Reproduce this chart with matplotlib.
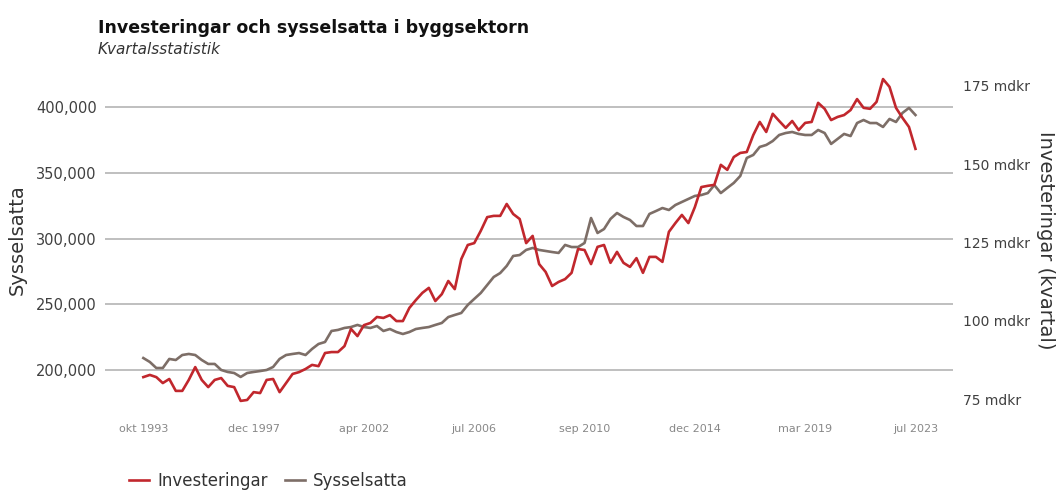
import matplotlib
matplotlib.use("Agg")
import matplotlib.pyplot as plt
from matplotlib.ticker import FuncFormatter

# -----------------------------------------------------------------------------
# Data: quarterly, okt 1993 .. jul 2023 (120 quarters)
# Sysselsatta (left axis, persons)
sysselsatta = [
    209100, 206100, 201500, 201500, 208400, 207600, 211400, 212200, 211400, 207600,
    204600, 204600, 200000, 198500, 197700, 194700, 197700, 198500, 199200, 200000,
    202300, 208400, 211400, 212200, 212900, 211400, 216000, 219800, 221300, 229700,
    230500, 232000, 232700, 234300, 232700, 232000, 233500, 229700, 231200, 228900,
    227400, 228900, 231200, 232000, 232700, 234300, 235800, 240300, 241900, 243400,
    249500, 254100, 258600, 264700, 270800, 273800, 279200, 286800, 287500, 291400,
    292900, 291400, 290600, 289800, 289100, 295200, 293600, 293600, 296700, 315700,
    304300, 307300, 315000, 319500, 316500, 314200, 309600, 309600, 318800, 321000,
    323300, 321800, 325600, 327900, 330200, 332500, 333200, 334700, 340800, 334700,
    338600, 342400, 347700, 361400, 363700, 369800, 371300, 374300, 378900, 380400,
    381200, 379700, 378900, 378900, 382700, 380400, 372100, 375900, 379700, 378100,
    388000, 390300, 388000, 388000, 385000, 391100, 388800, 395700, 399500, 394100,
]

# Investeringar (right axis, mdkr per kvartal)
investeringar = [
    82.0, 82.7, 82.0, 80.1, 81.4, 77.6, 77.6, 81.1, 85.2, 81.1,
    78.8, 81.1, 81.7, 79.2, 78.8, 74.4, 74.7, 77.2, 76.9, 81.1,
    81.4, 77.2, 80.1, 83.0, 83.6, 84.6, 85.9, 85.5, 89.7, 90.0,
    90.0, 91.9, 97.4, 95.1, 98.6, 99.3, 101.2, 100.9, 101.8, 99.9,
    99.9, 104.1, 106.6, 108.9, 110.5, 106.3, 108.5, 112.7, 110.1, 119.7,
    124.2, 124.8, 128.7, 133.1, 133.5, 133.5, 137.3, 134.1, 132.5, 124.8,
    127.1, 118.1, 115.6, 111.1, 112.4, 113.3, 115.3, 122.9, 122.6, 118.1,
    123.6, 124.2, 118.5, 122.0, 118.5, 117.2, 120.0, 115.3, 120.4, 120.4,
    118.8, 128.4, 131.2, 133.8, 131.2, 136.3, 142.7, 143.1, 143.4, 149.8,
    148.2, 152.3, 153.6, 153.9, 159.3, 163.5, 160.3, 166.1, 163.8, 161.6,
    163.8, 160.9, 163.2, 163.5, 169.6, 167.7, 164.1, 165.1, 165.7, 167.3,
    170.8, 168.0, 167.7, 169.9, 177.2, 174.7, 168.0, 164.8, 161.9, 154.9,
]

tick_labels = ["okt 1993", "dec 1997", "apr 2002", "jul 2006",
               "sep 2010", "dec 2014", "mar 2019", "jul 2023"]
tick_pos = [0, 17, 34, 51, 68, 85, 102, 119]

left_ticks = [200000, 250000, 300000, 350000, 400000]
right_ticks = [75, 100, 125, 150, 175]

# -----------------------------------------------------------------------------
RED = "#C1272D"
GREY = "#7D6E67"
TXT = "#404040"

plt.rcParams["font.family"] = ["DejaVu Sans"]

fig = plt.figure(figsize=(10.59, 4.92), dpi=100)
ax = fig.add_axes([0.0992, 0.1667, 0.8008, 0.6809])
ax2 = ax.twinx()

x = list(range(len(sysselsatta)))
ax.plot(x, sysselsatta, color=GREY, linewidth=1.9, label="Sysselsatta", zorder=3)
ax2.plot(x, investeringar, color=RED, linewidth=1.9, label="Investeringar", zorder=3)

ax.set_xlim(-5.9, 124.8)
ax.set_ylim(169550, 424580)
ax2.set_ylim(71.5, 178.5)

# grid only for left axis
ax.set_yticks(left_ticks)
ax.yaxis.set_major_formatter(FuncFormatter(lambda v, p: f"{v:,.0f}"))
ax.grid(axis="y", color="#b4b4b4", linewidth=1.2)
ax.set_axisbelow(True)

ax2.set_yticks(right_ticks)
ax2.set_yticklabels([f"{t} mdkr" for t in right_ticks])

ax.set_xticks(tick_pos)
ax.set_xticklabels(tick_labels)

for a in (ax, ax2):
    for s in a.spines.values():
        s.set_visible(False)
    a.tick_params(length=0)

ax.tick_params(axis="y", labelsize=10.5, colors=TXT, pad=6)
ax2.tick_params(axis="y", labelsize=10, colors=TXT, pad=7)
ax.tick_params(axis="x", labelsize=8, colors="#888888", pad=10)

fig.text(0.0925, 0.943, "Investeringar och sysselsatta i byggsektorn",
         fontsize=12.5, fontweight="bold", color="#111111", va="center")
fig.text(0.0925, 0.900, "Kvartalsstatistik", fontsize=11, style="italic",
         color="#333333", va="center")

fig.text(0.016, 0.512, "Sysselsatta", rotation=90, fontsize=14,
         color="#333333", va="center", ha="center")
fig.text(0.987, 0.512, "Investeringar (kvartal)", rotation=270, fontsize=14,
         color="#333333", va="center", ha="center")

h1, l1 = ax2.get_legend_handles_labels()
h2, l2 = ax.get_legend_handles_labels()
fig.legend(h1 + h2, l1 + l2, loc="center left", bbox_to_anchor=(0.108, 0.022),
           ncol=2, frameon=False, fontsize=12, handlelength=1.2,
           handletextpad=0.5, columnspacing=1.0, labelcolor="#333333")

fig.savefig("out.png", dpi=100)
